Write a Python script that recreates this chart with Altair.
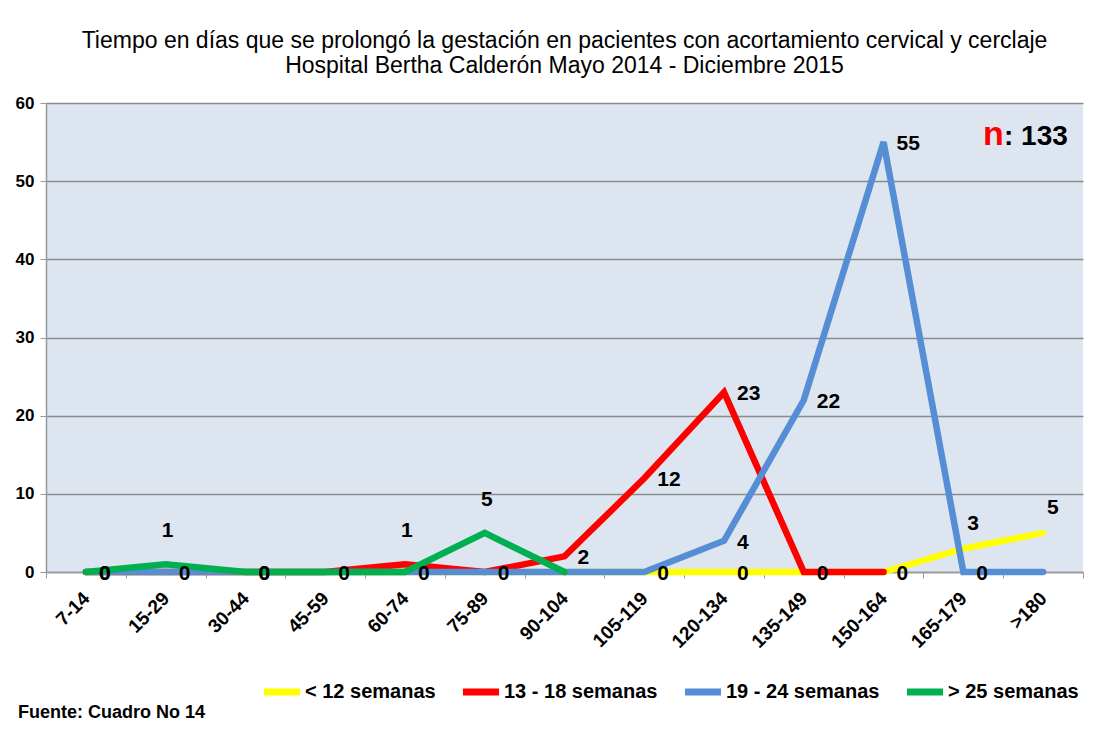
import altair as alt
import pandas as pd

categories = ["7-14", "15-29", "30-44", "45-59", "60-74", "75-89", "90-104",
              "105-119", "120-134", "135-149", "150-164", "165-179", ">180"]
series_names = ["< 12 semanas", "13 - 18 semanas", "19 - 24 semanas", "> 25 semanas"]
series_colors = ["#ffff00", "#ff0000", "#558ed5", "#00b050"]

menos_12 = [0, 0, 0, 0, 0, 0, 0, 0, 0, 0, 0, 3, 5]
s13_18 = [0, 0, 0, 0, 1, 0, 2, 12, 23, 0, 0, None, None]
s19_24 = [0, 0, 0, 0, 0, 0, 0, 0, 4, 22, 55, 0, 0]
mas_25 = [0, 1, 0, 0, 0, 5, 0, None, None, None, None, None, None]

# which points carry a data label in the original
labels_menos_12 = ["120-134", "165-179", ">180"]
labels_13_18 = ["45-59", "60-74", "75-89", "90-104", "105-119", "120-134", "135-149", "150-164"]
labels_19_24 = ["7-14", "15-29", "30-44", "105-119", "120-134", "135-149", "150-164", "165-179"]
labels_mas_25 = ["7-14", "15-29", "30-44", "60-74", "75-89"]

# labels drawn above the point instead of to its right
above_labels = [("> 25 semanas", "15-29"), ("> 25 semanas", "75-89"), ("13 - 18 semanas", "60-74")]
above_right_labels = [("< 12 semanas", "165-179"), ("< 12 semanas", ">180")]

title_lines = ["Tiempo en días que se prolongó la gestación en pacientes con acortamiento cervical y cerclaje",
               "Hospital Bertha Calderón Mayo 2014 - Diciembre 2015"]
n_text = "n"
n_value = ": 133"
source_text = "Fuente: Cuadro No 14"

all_values = [menos_12, s13_18, s19_24, mas_25]
all_labels = [labels_menos_12, labels_13_18, labels_19_24, labels_mas_25]

rows = []
for name, vals, labs in zip(series_names, all_values, all_labels):
    for cat, v in zip(categories, vals):
        if (name, cat) in above_labels:
            pos = "above"
        elif (name, cat) in above_right_labels:
            pos = "aboveright"
        else:
            pos = "right"
        rows.append({"serie": name, "cat": cat, "valor": v,
                     "etiqueta": cat in labs and v is not None, "pos": pos})
df = pd.DataFrame(rows)

FONT = "Liberation Sans"

x_enc = alt.X("cat:N", sort=categories, bandPosition=0.5,
              scale=alt.Scale(type="band", paddingInner=0, paddingOuter=0),
              axis=alt.Axis(title=None, labelAngle=-45, labelAlign="right", labelBaseline="middle",
                            labelFontSize=19, labelFontWeight="bold", labelColor="black",
                            labelPadding=17, tickBand="extent", ticks=True, tickSize=6,
                            tickColor="#999999", domainColor="#999999", domainWidth=1.5,
                            grid=False))
y_enc = alt.Y("valor:Q", scale=alt.Scale(domain=[0, 60], nice=False),
              axis=alt.Axis(title=None, values=[0, 10, 20, 30, 40, 50, 60], labelFontSize=17,
                            labelFontWeight="bold", labelColor="black", labelPadding=6,
                            tickSize=6, tickColor="#999999", domainColor="#999999",
                            domainWidth=1.5, grid=True, gridColor="#8c8c8c", gridWidth=1.5))
color_enc = alt.Color("serie:N", scale=alt.Scale(domain=series_names, range=series_colors),
                      legend=alt.Legend(title=None, orient="none", legendX=214, legendY=567,
                                        direction="horizontal", symbolType="stroke",
                                        symbolStrokeWidth=7, symbolSize=1300,
                                        labelFontSize=20, labelFontWeight="bold",
                                        labelColor="black", labelFont=FONT,
                                        columnPadding=12, labelOffset=1))

base = alt.Chart(df)
layers = []
for name in series_names:
    layers.append(
        base.transform_filter(alt.datum.serie == name)
        .mark_line(strokeWidth=6.5, strokeCap="round", strokeJoin="miter")
        .encode(x=x_enc, y=y_enc, color=color_enc)
    )

lbl = base.transform_filter(alt.datum.etiqueta)
text_right = lbl.transform_filter(alt.datum.pos == "right").mark_text(
    align="left", baseline="middle", dx=13, dy=2, fontSize=21, fontWeight="bold",
    font=FONT, color="black").encode(x=x_enc, y=y_enc, text="valor:Q")
text_above = lbl.transform_filter(alt.datum.pos == "above").mark_text(
    align="center", baseline="middle", dx=2, dy=-33, fontSize=21, fontWeight="bold",
    font=FONT, color="black").encode(x=x_enc, y=y_enc, text="valor:Q")
text_above_right = lbl.transform_filter(alt.datum.pos == "aboveright").mark_text(
    align="left", baseline="middle", dx=4, dy=-25, fontSize=21, fontWeight="bold",
    font=FONT, color="black").encode(x=x_enc, y=y_enc, text="valor:Q")

note_df = pd.DataFrame({"n": [n_text], "v": [n_value], "s": [source_text]})
n_mark = alt.Chart(note_df).mark_text(align="left", baseline="alphabetic", fontSize=34,
                                      fontWeight="bold", font=FONT, color="#ff0000").encode(
    x=alt.value(937), y=alt.value(42), text="n:N")
v_mark = alt.Chart(note_df).mark_text(align="left", baseline="alphabetic", fontSize=28,
                                      fontWeight="bold", font=FONT, color="black").encode(
    x=alt.value(958), y=alt.value(42), text="v:N")
s_mark = alt.Chart(note_df).mark_text(align="left", baseline="alphabetic", fontSize=18,
                                      fontWeight="bold", font=FONT, color="black").encode(
    x=alt.value(-28), y=alt.value(615), text="s:N")

chart = alt.layer(*layers, text_right, text_above, text_above_right, n_mark, v_mark, s_mark).properties(
    width=1037, height=469,
    autosize=alt.AutoSizeParams(type="none"),
    padding={"left": 38, "top": 95, "right": 15, "bottom": 151},
    title=alt.TitleParams(text=title_lines, fontSize=23, fontWeight="normal", font=FONT,
                          color="black", anchor="middle", offset=16, lineHeight=25),
).configure(font=FONT, background="white").configure_view(fill="#dde5f1", strokeWidth=0)

chart.save("out.html", embed_options={"renderer": "svg", "actions": False})
